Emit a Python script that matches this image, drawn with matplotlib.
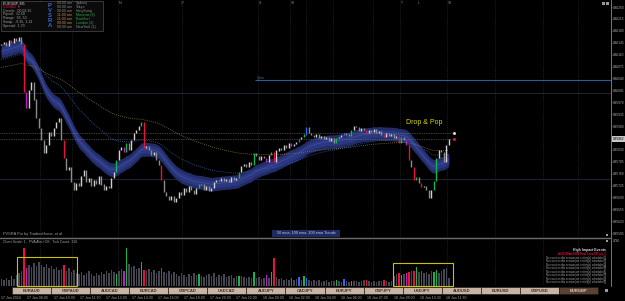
import numpy as np
import pandas as pd
import matplotlib
matplotlib.use("Agg")
import matplotlib.pyplot as plt
from matplotlib.patches import Rectangle

plt.rcParams['font.family'] = ['Liberation Sans', 'DejaVu Sans']

W, H = 625, 301

# EURGBP M5, 17-18 Jan 2024
first_open = 0.86138
closes = [
    0.86141, 0.86147, 0.86135, 0.86153, 0.86144, 0.86159, 0.86150, 0.86162, 0.86141, 0.86000,
    0.85953, 0.86006, 0.86029, 0.85977, 0.85924, 0.85894, 0.85859, 0.85821, 0.85844, 0.85882,
    0.85871, 0.85894, 0.85912, 0.85924, 0.85859, 0.85806, 0.85771, 0.85777, 0.85735, 0.85712,
    0.85732, 0.85724, 0.85753, 0.85771, 0.85735, 0.85747, 0.85724, 0.85741, 0.85729, 0.85753,
    0.85727, 0.85712, 0.85724, 0.85718, 0.85747, 0.85765, 0.85800, 0.85829, 0.85838, 0.85824,
    0.85850, 0.85829, 0.85859, 0.85879, 0.85888, 0.85900, 0.85912, 0.85835, 0.85841, 0.85829,
    0.85815, 0.85824, 0.85800, 0.85785, 0.85741, 0.85706, 0.85694, 0.85682, 0.85694, 0.85677,
    0.85688, 0.85706, 0.85697, 0.85718, 0.85706, 0.85724, 0.85712, 0.85700, 0.85718, 0.85729,
    0.85727, 0.85712, 0.85724, 0.85709, 0.85718, 0.85735, 0.85741, 0.85738, 0.85747, 0.85738,
    0.85744, 0.85735, 0.85750, 0.85741, 0.85747, 0.85765, 0.85782, 0.85788, 0.85779, 0.85794,
    0.85785, 0.85821, 0.85812, 0.85800, 0.85812, 0.85806, 0.85794, 0.85815, 0.85824, 0.85794,
    0.85827, 0.85835, 0.85829, 0.85844, 0.85835, 0.85850, 0.85841, 0.85847, 0.85853, 0.85862,
    0.85868, 0.85876, 0.85897, 0.85879, 0.85874, 0.85868, 0.85876, 0.85865, 0.85871, 0.85862,
    0.85868, 0.85856, 0.85865, 0.85850, 0.85865, 0.85868, 0.85874, 0.85879, 0.85876, 0.85871,
    0.85888, 0.85900, 0.85897, 0.85885, 0.85894, 0.85888, 0.85879, 0.85888, 0.85882, 0.85891,
    0.85879, 0.85885, 0.85874, 0.85868, 0.85879, 0.85871, 0.85876, 0.85865, 0.85871, 0.85850,
    0.85868, 0.85859, 0.85844, 0.85800, 0.85779, 0.85741, 0.85750, 0.85732, 0.85721, 0.85724,
    0.85712, 0.85688, 0.85712, 0.85738, 0.85806, 0.85829, 0.85824, 0.85794, 0.85844, 0.85862,
]
volumes = [
    140, 120, 160, 120, 200, 140,
    220, 260, 300, 760, 360,
    420, 380, 460, 400, 480, 420, 380, 440, 360, 400, 340, 380, 320, 340, 420, 300, 360, 280, 320, 260,
    240, 280, 220, 260, 300, 240, 200, 260, 220, 280, 240, 300, 260, 320,
    280, 240, 300, 340, 300, 760, 440, 380, 400, 340, 360, 480, 320, 300, 340, 280, 320, 260, 300, 360,
    280, 260, 300, 240, 280,
    240, 200, 260, 220, 180, 240, 200, 260, 220, 240, 200, 180, 220, 240, 200, 260, 180, 220, 200, 240,
    180, 200, 220, 160, 200, 200,
    200, 180, 160, 180, 160, 280, 160, 180, 140, 160, 220, 160, 280, 560, 180, 140, 160, 120, 140, 120,
    160, 120, 140, 180, 120, 200, 160, 120, 100, 120,
    100, 120, 80, 100, 120, 90, 110, 100, 120, 100, 80, 140, 100, 80, 110, 100,
    100, 80, 100, 120, 120, 100, 80, 100, 90, 110, 100, 120, 100, 90, 110,
    200, 240, 260, 220, 240, 260, 280, 300, 300, 380, 280, 300, 260, 280, 240, 300, 280, 320, 260, 300,
    340, 360, 160,
]

# PVSRA candle classes (bar index)
climax_bull = [46, 50, 56, 79, 95, 101, 108, 121, 134, 140, 160, 166, 173, 174]
climax_bear = [9, 25, 57, 64, 109, 146, 153, 159, 163, 165, 168]
rising_bull = [119, 122, 137]
rising_bear = [4, 10, 49, 106, 116, 162]

# EMA values at the first visible bar, and periods
band_seed, band_span, band_half = 0.86118, 22, 0.00020
ema_mid_seed, ema_mid_span = 0.86094, 50
ema_slow_seed, ema_slow_span = 0.86071, 100

spread = 0.00017
open_level = 0.86035
grid_levels = [0.85997, 0.85744]

price_ticks = [0.86250, 0.86215, 0.86180, 0.86145, 0.86110, 0.86075, 0.86040, 0.86005, 0.85970, 0.85935,
               0.85900, 0.85865, 0.85830, 0.85795, 0.85760, 0.85725, 0.85690, 0.85655, 0.85620, 0.85585]
vol_scale_label = "2790"

time_labels = ["17 Jan 2024", "17 Jan 08:00", "17 Jan 10:00", "17 Jan 11:30", "17 Jan 13:00", "17 Jan 14:30",
               "17 Jan 16:00", "17 Jan 18:00", "17 Jan 20:00", "17 Jan 22:00", "18 Jan 00:00", "18 Jan 02:00",
               "18 Jan 04:00", "18 Jan 06:00", "18 Jan 07:30", "18 Jan 09:00", "18 Jan 10:30", "18 Jan 11:30"]
time_bars = [-0.1, 10.4, 20.9, 31.3, 41.8, 52.3, 62.7, 73.2, 83.6, 94.1, 104.6, 115.0,
             125.5, 135.9, 146.4, 156.9, 167.3, 177.8]
session_bars = [15.5, 28.3, 46.7, 72.3, 102.7, 115.5, 122.0, 132.7, 148.7, 159.5, 178.3, 197.5, 216.7, 230.7]
session_marks = [(46.7, "N"), (71.5, "17"), (102.7, "S"), (115.5, "10"), (159.5, "T"), (166.0, "L"), (178.3, "18")]

pairs = ["EURAUD", "GBPAUD", "AUDCAD", "EURCAD", "GBPCAD", "USDCAD", "AUDJPY", "CADJPY",
         "EURJPY", "GBPJPY", "USDJPY", "AUDUSD", "EURUSD", "GBPUSD", "EURGBP"]
active_pair = "EURGBP"

info_rows = ["Candle:  00:02:15", "Pipval:  12.50", "Range:  95, 53", "Swap:  -9.35, 1.13"]
session_times = ["00:00 am", "00:00 am", "00:00 am", "11:00 am", "11:00 am", "08:00 am", "09:00 am"]
session_names = ["Sydney", "Tokyo", "HongKong", "Moscow (8)", "Frankfurt", "London (2)", "NewYork (1)"]
session_open = [False, False, False, True, True, True, False]

event_next = "At 10:00am EUR Final Core CPI y/y"
event_none = "No event on this session per setting(s) scheduled"
n_event_rows = 8

# ---- derived series ----
n = len(closes)
x = np.arange(n)
c = np.array(closes)
o = np.array([first_open] + closes[:-1])


def ema(seed, span):
    return pd.Series([seed] + closes).ewm(span=span, adjust=False).mean().values[1:]


band = ema(band_seed, band_span)
ema_mid = ema(ema_mid_seed, ema_mid_span)
ema_slow = ema(ema_slow_seed, ema_slow_span)

RED, GREEN, BLUE, MAGENTA = '#e8123c', '#14b450', '#2a6cf0', '#c21ec8'


def pvsra(i):
    if i in climax_bull: return GREEN
    if i in climax_bear: return RED
    if i in rising_bull: return BLUE
    if i in rising_bear: return MAGENTA
    return None


cand_cols, vol_cols = [], []
for i in range(n):
    col = pvsra(i)
    cand_cols.append(col or ('#cfcfcf' if c[i] >= o[i] else '#8c8c8c'))
    vol_cols.append(col or '#464652')

bid = c[-1]
ask = bid + spread

# ---- figure ----
fig = plt.figure(figsize=(W / 100, H / 100), dpi=100, facecolor='black')


def px_axes(x0, y0, x1, y1, **kw):
    return fig.add_axes([x0 / W, 1 - y1 / H, (x1 - x0) / W, (y1 - y0) / H], **kw)


XL = (-0.5, 611 / 2.5 - 0.5)

# price pane
ax = px_axes(0, 0, 611, 237.5)
ax.set_facecolor('black')
ax.set_xlim(*XL)
ax.set_ylim(0.855721, 0.862706)
for b in session_bars:
    ax.axvline(b, color='#3a3a3a', lw=0.5, ls=(0, (1, 2)), zorder=1)
for lv in grid_levels:
    ax.axhline(lv, color='#222a38', lw=0.6, zorder=1)
ax.hlines(open_level, 101.5, XL[1], color='#2d5c9c', lw=0.8, zorder=1)

ax.fill_between(x, band - band_half, band + band_half, color='#222c66', lw=0, zorder=2)
ax.fill_between(x, band - band_half * 0.55, band + band_half * 0.55, color='#2b3780', lw=0, zorder=2)
ax.plot(x, band, color='#4656a8', lw=0.4, zorder=2)
ax.plot(x, ema_mid, color='#2f62b8', lw=0.6, ls=(0, (1, 1.5)), zorder=3)
ax.plot(x, ema_slow, color='#8c7c2c', lw=0.6, ls=(0, (1, 1.5)), zorder=3)

ax.hlines([ask, bid], XL[0], n + 0.6, color='#7a7a7a', lw=0.5, ls=(0, (1, 1.5)), zorder=3)
ax.plot([n + 1.0], [ask], 's', ms=1.0, color='#e0e0e0', zorder=5)
ax.plot([n + 1.0], [bid], 's', ms=1.0, color=RED, zorder=5)

lo = np.minimum(o, c) - 0.00001
hi = np.maximum(o, c) + 0.00001
ax.vlines(x, lo, hi, colors=cand_cols, lw=1.0, zorder=4)

# the live price label takes the place of the tick that sits under it
shown_ticks = [p for p in price_ticks if abs(p - bid) > 0.00015]
ax.yaxis.tick_right()
ax.set_yticks(shown_ticks)
ax.set_yticklabels([f"{p:.5f}" for p in shown_ticks])
ax.tick_params(axis='y', length=1.0, width=0.4, color='#8a8a8a', labelsize=2.3,
               labelcolor='#b0b0b0', pad=0.6)
ax.set_xticks([])
for s in ['top', 'left', 'bottom']:
    ax.spines[s].set_visible(False)
ax.spines['right'].set_color('#8a8a8a')
ax.spines['right'].set_linewidth(0.6)
ax.text(1.0025, bid, f"{bid:.5f}", transform=ax.get_yaxis_transform(), fontsize=2.3, color='black',
        va='center', ha='left', zorder=20, clip_on=False,
        bbox=dict(boxstyle='square,pad=0.2', fc='#c8c8c8', ec='none'))

# volume pane
axv = px_axes(0, 238.5, 611, 286)
axv.set_facecolor('black')
axv.set_xlim(*XL)
axv.set_ylim(0, 950)
for b in session_bars:
    axv.axvline(b, color='#3a3a3a', lw=0.5, ls=(0, (1, 2)), zorder=1)
axv.bar(x, volumes, width=0.6, color=vol_cols, lw=0, zorder=2)
axv.set_xticks([])
axv.set_yticks([])
for s in ['top', 'left', 'bottom']:
    axv.spines[s].set_visible(False)
axv.spines['right'].set_color('#8a8a8a')
axv.spines['right'].set_linewidth(0.6)

# time scale
axt = px_axes(0, 294.5, 611, 301)
axt.set_xlim(*XL)
axt.set_ylim(0, 1)
axt.axis('off')
for b, lab in zip(time_bars, time_labels):
    axt.text(b, 0.5, lab, fontsize=2.5, color='#a8a8a8', ha='left', va='center')

# overlay in pixel coordinates for panels, tabs and labels
ov = fig.add_axes([0, 0, 1, 1], zorder=10)
ov.set_xlim(0, W)
ov.set_ylim(H, 0)
ov.axis('off')


def txt(xp, yp, s, size=2.6, color='#a0a0a0', **kw):
    ov.text(xp, yp, s, fontsize=size, color=color, va='center', **kw)


ov.add_patch(Rectangle((0.5, 0.5), 102, 30, fc='#0b0b0b', ec='#4c4c4c', lw=0.5))
txt(3, 3.3, "EURGBP, M5", color='#d8d8d8')
txt(3, 6.9, f"{bid:.5f} ▼", color=RED)
for k, row in enumerate(info_rows + [f"Spread:  {spread * 1e4:.2f}"]):
    txt(3, 10.7 + 3.7 * k, row)
for k, ch in enumerate("PVSRA"):
    txt(49.5, 5.5 + 5 * k, ch, size=4.2, color='#3d6ad6', weight='bold', ha='center')
for k, (t, nm, op) in enumerate(zip(session_times, session_names, session_open)):
    txt(57, 3.3 + 4 * k, t, color='#d08a3a' if op else '#8a8a8a')
    txt(76, 3.3 + 4 * k, nm, color='#2aa84a' if op else '#8a8a8a')

for b, s in session_marks:
    txt((b + 0.5) * 2.5 + 1, 3, s, color='#8c8c8c')
ov.add_patch(Rectangle((601.5, 1.5), 3, 3, fc='#9a9a9a', ec='none'))
ov.add_patch(Rectangle((605.8, 1.5), 3, 3, fc='#9a9a9a', ec='none'))

txt(257, 77.5, "Open", size=2.4, color='#4a6a9a')
txt(405.5, 122.5, "Drop & Pop", size=5.0, color='#d6d60a')

txt(3, 233.5, "PVSRA Pro by TradersHome, et al.", size=2.8)
ov.add_patch(Rectangle((272, 229.5), 68, 7, fc='#1f2b60', ec='none'))
txt(306, 233, "50 ema, 100 ema, 200 ema Trends", size=2.7, color='#c4cce6', ha='center')
ov.plot([0, 611], [238, 238], color='#6c6c6c', lw=1.0)
txt(3, 241.5, "Chart Scale: 1,  PVA Alert Off,  Tick Count: 226", size=2.6)
txt(613, 241, vol_scale_label, size=2.3, color='#b0b0b0')
ov.add_patch(Rectangle((605.5, 233.5), 2.6, 2.6, fc='#9a9a9a', ec='none'))
ov.add_patch(Rectangle((605.5, 239.5), 2.6, 2.6, fc='#9a9a9a', ec='none'))

for (x0, y0, x1, y1) in [(17, 257, 77, 286), (393, 263, 453, 286)]:
    ov.add_patch(Rectangle((x0, y0), x1 - x0, y1 - y0, fill=False, ec='#c8c400', lw=0.8))

txt(606, 250, "High Impact Events", size=2.5, color='#e0e0e0', weight='bold', ha='right')
txt(603, 254, event_next, size=2.0, color=RED, weight='bold', ha='right')
txt(604.2, 254, "[1]", size=1.9, color=RED)
for k in range(n_event_rows):
    yp = 257.8 + 3.5 * k
    txt(603, yp, event_none, size=1.9, ha='right')
    txt(604.2, yp, f"[{k + 2}]", size=1.9)

tab_w = 586 / len(pairs)
for k, p in enumerate(pairs):
    act = p == active_pair
    ov.add_patch(Rectangle((12 + k * tab_w, 286.7), tab_w, 7.5,
                           fc='#5c4232' if act else '#c9b3a2', ec='#151515', lw=0.4))
    txt(12 + (k + 0.5) * tab_w, 290.5, p, size=3.0, weight='bold',
        color='#d9c9b9' if act else '#3e2e24', ha='center')
ov.add_patch(Rectangle((604.5, 288.5), 3, 3, fc='#9a9a9a', ec='none'))

fig.savefig("out.png", dpi=100, facecolor='black')
